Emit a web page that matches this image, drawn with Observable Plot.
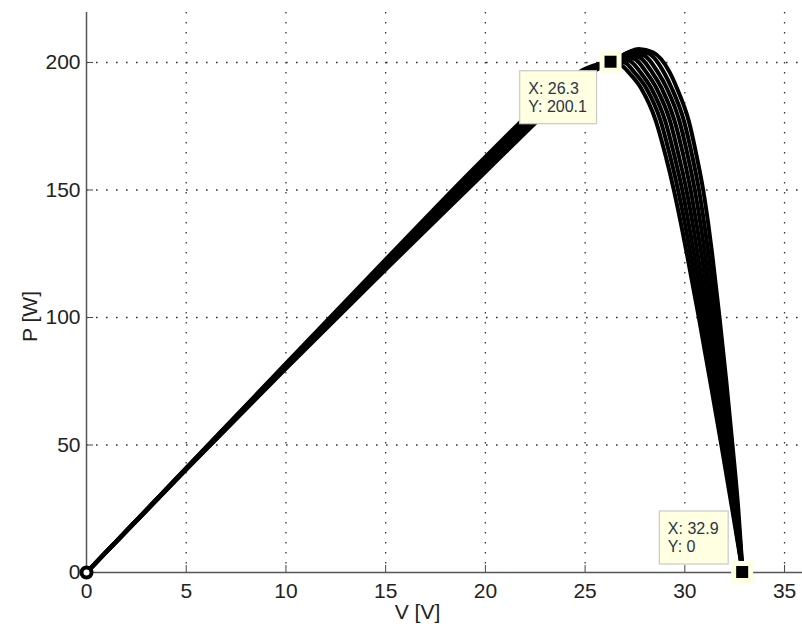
<!DOCTYPE html>
<html>
<head>
<meta charset="utf-8">
<script src="https://cdn.jsdelivr.net/npm/d3@7"></script>
<script src="https://cdn.jsdelivr.net/npm/@observablehq/plot@0.6"></script>
<style>
  html, body { margin: 0; padding: 0; background: #fff; }
  #chart { width: 802px; height: 629px; }
</style>
</head>
<body>
<div id="chart"></div>
<script>
// Axis ticks and grid positions
const xTicks = [0, 5, 10, 15, 20, 25, 30, 35];
const yTicks = [0, 50, 100, 150, 200];
const xGrid = [5, 10, 15, 20, 25, 30, 35];
const yGrid = [50, 100, 150, 200];

// P-V curves of the module, one per (Rs, Rp) pair: [V, P]
const curve1 = [[0,0],[5,41.0],[10,82.0],[15,122.8],[20,163.0],[23,185.6],[25,197.5],[26.3,200.1],[26.8,199.0],[27.2,196],[27.8,190],[28.55,177],[29.05,163],[29.45,150],[29.8,137],[30.1,125],[30.7,100],[31.27,75],[31.83,50],[32.37,25],[32.9,0]];
const curve2 = [[0,0],[5,40.9],[10,81.7],[15,122.2],[20,162.1],[23,184.8],[25,197.1],[26.3,200.1],[26.5,200.9],[27.03,199.8],[27.49,196],[28.06,190],[28.79,177],[29.27,163],[29.66,150],[30.0,137],[30.28,125],[30.85,100],[31.39,75],[31.91,50],[32.41,25],[32.9,0]];
const curve3 = [[0,0],[5,40.8],[10,81.4],[15,121.7],[20,161.3],[23,184.0],[25,196.6],[26.3,200.1],[26.7,201.6],[27.27,200.5],[27.79,196],[28.31,190],[29.02,177],[29.49,163],[29.87,150],[30.19,137],[30.46,125],[31.0,100],[31.5,75],[31.99,50],[32.46,25],[32.9,0]];
const curve4 = [[0,0],[5,40.7],[10,81.1],[15,121.1],[20,160.4],[23,183.2],[25,196.2],[26.3,200.1],[26.9,202.4],[27.5,201.3],[28.08,196],[28.57,190],[29.26,177],[29.71,163],[30.08,150],[30.39,137],[30.64,125],[31.15,100],[31.62,75],[32.07,50],[32.5,25],[32.9,0]];
const curve5 = [[0,0],[5,40.6],[10,80.9],[15,120.5],[20,159.6],[23,182.4],[25,195.8],[26.3,200.1],[27.1,203.1],[27.73,202.0],[28.37,196],[28.83,190],[29.49,177],[29.94,163],[30.29,150],[30.58,137],[30.83,125],[31.29,100],[31.73,75],[32.15,50],[32.55,25],[32.9,0]];
const curve6 = [[0,0],[5,40.5],[10,80.6],[15,119.9],[20,158.7],[23,181.6],[25,195.4],[26.3,200.1],[27.3,203.8],[27.97,202.7],[28.66,196],[29.09,190],[29.73,177],[30.16,163],[30.5,150],[30.78,137],[31.01,125],[31.44,100],[31.85,75],[32.23,50],[32.59,25],[32.9,0]];
const curve7 = [[0,0],[5,40.4],[10,80.3],[15,119.4],[20,157.9],[23,180.8],[25,194.9],[26.3,200.1],[27.5,204.6],[28.2,203.5],[28.96,196],[29.34,190],[29.96,177],[30.38,163],[30.71,150],[30.97,137],[31.19,125],[31.59,100],[31.97,75],[32.31,50],[32.64,25],[32.9,0]];
const curve8 = [[0,0],[5,40.3],[10,80.0],[15,118.8],[20,157.0],[23,180.0],[25,194.5],[26.3,200.1],[27.7,205.3],[28.4,204.0],[29.25,196],[29.6,190],[30.2,177],[30.6,163],[30.92,150],[31.17,137],[31.37,125],[31.74,100],[32.08,75],[32.39,50],[32.68,25],[32.9,0]];
const curves = [curve1, curve2, curve3, curve4, curve5, curve6, curve7, curve8];

// Starting point of the sweep and the two data tips
const origin = [[0, 0]];
const tips = [
  {v: 26.3, p: 200.1, place: "below"},
  {v: 32.9, p: 0, place: "above"}
];

const rows = curves.flatMap((c, k) => c.map(([v, p]) => ({k, v, p})));

const font = "'Liberation Sans', Arial, Helvetica, sans-serif";

const chart = Plot.plot({
  width: 802,
  height: 629,
  marginLeft: 86,
  marginRight: 0,
  marginTop: 12,
  marginBottom: 57,
  style: {fontFamily: font, fontSize: "21px", color: "#222", background: "#fff"},
  x: {domain: [0, 35.9]},
  y: {domain: [0, 219.6]},
  marks: [
    Plot.gridX(xGrid, {stroke: "#333", strokeOpacity: 1, strokeWidth: 1.3, strokeDasharray: "1.6,8.4"}),
    Plot.gridY(yGrid, {stroke: "#333", strokeOpacity: 1, strokeWidth: 1.3, strokeDasharray: "1.6,8.4"}),
    Plot.axisX(xTicks, {tickSize: -7, tickPadding: 18, label: null, stroke: "#444", fontSize: 21}),
    Plot.axisY(yTicks, {tickSize: -7, tickPadding: 13, label: null, stroke: "#444", fontSize: 21}),
    Plot.ruleY([0], {stroke: "#555", strokeWidth: 1.5}),
    Plot.ruleX([0], {stroke: "#555", strokeWidth: 1.5}),
    Plot.line(rows, {x: "v", y: "p", z: "k", stroke: "#000", strokeWidth: 4, curve: "monotone-x"}),
    Plot.dot(origin, {x: d => d[0], y: d => d[1], r: 5, fill: "#fff", stroke: "#000", strokeWidth: 4}),
    Plot.text(["V [V]"], {frameAnchor: "bottom", lineAnchor: "middle", textAnchor: "middle", dx: -27, dy: 40, fontSize: 21, fill: "#222"}),
    Plot.text(["P [W]"], {frameAnchor: "left", lineAnchor: "middle", textAnchor: "middle", dx: -56, dy: 24, rotate: -90, fontSize: 21, fill: "#222"})
  ]
});

document.getElementById("chart").appendChild(chart);

// Data tips: a boxed readout next to a square marker on the curve
const sx = chart.scale("x"), sy = chart.scale("y");
const svg = d3.select(chart);
const g = svg.append("g").attr("font-family", font).attr("text-anchor", "start");
for (const t of tips) {
  const px = sx.apply(t.v), py = sy.apply(t.p);
  const lines = [`X: ${t.v}`, `Y: ${t.p}`];
  const box = g.append("g");
  const rect = box.append("rect").attr("fill", "#ffffe1").attr("stroke", "#c9c9c9").attr("stroke-width", 1.2);
  const text = box.append("text").attr("font-size", 16).attr("fill", "#2b3548").attr("text-anchor", "start");
  lines.forEach((s, i) => text.append("tspan").attr("x", 0).attr("y", i * 18).text(s));
  const bb = text.node().getBBox();
  const w = bb.width + 18, h = 53;
  const left = px - 14 - w;
  const top = t.place === "below" ? py + 9 : py - 8 - h;
  rect.attr("x", left).attr("y", top).attr("width", w).attr("height", h);
  text.attr("transform", `translate(${left + 8.5},${top + 23})`);
  g.append("rect").attr("x", px - 11).attr("y", py - 11).attr("width", 22).attr("height", 22).attr("fill", "#ffffe1");
  g.append("rect").attr("x", px - 6).attr("y", py - 6).attr("width", 12).attr("height", 12).attr("fill", "#000");
}
</script>
</body>
</html>
